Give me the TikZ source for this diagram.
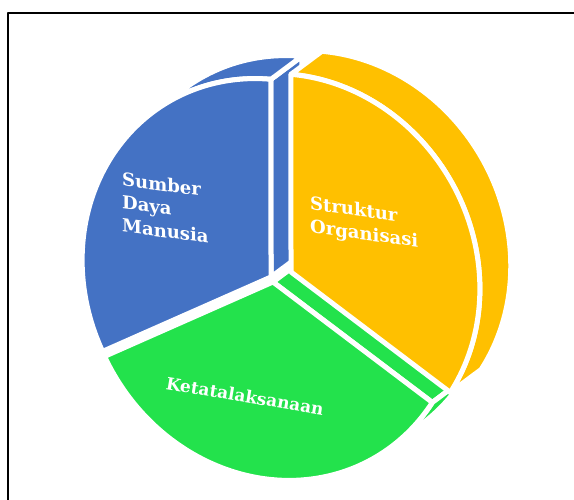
\documentclass[tikz,border=0pt]{standalone}
\usepackage{fontspec}
\setmainfont{DejaVu Serif}
\begin{document}
\begin{tikzpicture}[x=1pt,y=1pt,line join=round]
\definecolor{cblue}{RGB}{68,114,196}
\definecolor{cyellow}{RGB}{255,192,0}
\definecolor{cgreen}{RGB}{35,226,76}
\def\dx{0.022}
\def\dy{-0.208}
\tikzset{
  face/.style={draw=white,line width=5pt,line join=round},
  disc/.style={x={(-101.5pt,175.8pt)},y={(-159.3pt,-92pt)}},
  lbl/.style={text=white,font=\bfseries\fontsize{18}{23}\selectfont,inner sep=0pt,align=left}
}
\useasboundingbox (0,0) rectangle (574,500);
\clip (0,0) rectangle (574,500);
\fill[white] (0,0) rectangle (574,500);
\draw[line width=2pt] (8,-20) -- (8,487) -- (600,487);
% ---------- side faces ----------
\begin{scope}[shift={(271pt,223pt)},disc]
  \path[face,fill=cblue] (0,0) -- ({cos(-32.5)},{sin(-32.5)}) -- ({cos(-32.5)+\dx},{sin(-32.5)+\dy}) -- (\dx,\dy) -- cycle;
  \path[face,fill=cblue] plot[domain=-32.5:5,samples=40,variable=\t] ({cos(\t)},{sin(\t)}) -- plot[domain=5:-32.5,samples=40,variable=\t] ({cos(\t)+\dx},{sin(\t)+\dy}) -- cycle;
\end{scope}
\begin{scope}[shift={(273pt,218pt)},disc]
  \path[face,fill=cgreen] (0,0) -- ({cos(205)},{sin(205)}) -- ({cos(205)+\dx},{sin(205)+\dy}) -- (\dx,\dy) -- cycle;
  \path[face,fill=cgreen] plot[domain=175:205,samples=30,variable=\t] ({cos(\t)},{sin(\t)}) -- plot[domain=205:175,samples=30,variable=\t] ({cos(\t)+\dx},{sin(\t)+\dy}) -- cycle;
\end{scope}
\begin{scope}[shift={(291pt,228pt)},disc]
  \path[face,fill=cyellow] plot[domain=205:327.5,samples=80,variable=\t] ({cos(\t)},{sin(\t)}) -- plot[domain=327.5:205,samples=80,variable=\t] ({cos(\t)+\dx},{sin(\t)+\dy}) -- cycle;
\end{scope}
% ---------- front faces ----------
\begin{scope}[shift={(271pt,223pt)},disc]
  \path[face,fill=cblue] (0,0) -- plot[domain=-32.5:84.4,samples=80,variable=\t] ({cos(\t)},{sin(\t)}) -- cycle;
\end{scope}
\begin{scope}[shift={(273pt,218pt)},disc]
  \path[face,fill=cgreen] (0,0) -- plot[domain=84.4:205,samples=80,variable=\t] ({cos(\t)},{sin(\t)}) -- cycle;
\end{scope}
\begin{scope}[shift={(291pt,228pt)},disc]
  \path[face,fill=cyellow] (0,0) -- plot[domain=205:327.5,samples=80,variable=\t] ({cos(\t)},{sin(\t)}) -- cycle;
\end{scope}
% ---------- labels ----------
\node[lbl,yslant=-0.13,anchor=north west] (sdm) at (122,328) {Sumber\\Daya\\Manusia};
\node[lbl,yslant=-0.13,anchor=north west] (so) at (310,304) {Struktur\\Organisasi};
\node[lbl,font=\bfseries\fontsize{17}{21}\selectfont,rotate=-9.5] (kt) at (245,104) {Ketatalaksanaan};
\end{tikzpicture}
\end{document}
